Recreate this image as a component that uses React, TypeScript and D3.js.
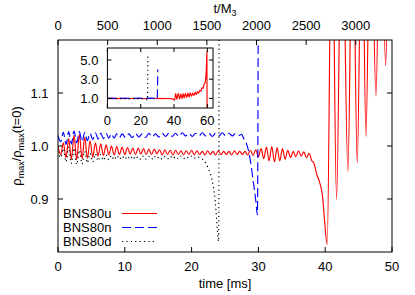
import React from "react";
import * as d3 from "d3";

// --- data ---
const bns80u: [number, number][] = [
  [0.0, 1.0], [0.4, 0.984], [0.8, 1.006], [1.2, 0.978], [1.6, 1.014], [2.0, 0.975],
  [2.4, 1.02], [2.8, 0.974], [3.2, 1.022], [3.6, 0.976], [4.0, 1.017], [4.4, 0.977],
  [4.8, 1.01], [5.2, 0.979], [5.6, 1.006], [6.0, 0.981], [6.4, 1.004], [6.8, 0.982],
  [7.2, 1.002], [7.6, 0.983], [8.0, 1.0], [8.4, 0.983], [8.8, 0.999], [9.2, 0.984],
  [9.6, 0.998], [10.0, 0.984], [10.4, 0.997], [10.8, 0.985], [11.2, 0.996], [11.6, 0.984],
  [12.0, 0.996], [12.4, 0.985], [12.8, 0.995], [13.2, 0.984], [13.6, 0.994], [14.0, 0.984],
  [14.4, 0.994], [14.8, 0.985], [15.2, 0.993], [15.6, 0.983], [16.0, 0.993], [16.4, 0.984],
  [16.8, 0.992], [17.2, 0.983], [17.6, 0.992], [18.0, 0.984], [18.4, 0.991], [18.8, 0.983],
  [19.2, 0.991], [19.6, 0.984], [20.0, 0.992], [20.4, 0.983], [20.8, 0.991], [21.2, 0.984],
  [21.6, 0.99], [22.0, 0.983], [22.4, 0.991], [22.8, 0.984], [23.2, 0.99], [23.6, 0.983],
  [24.0, 0.991], [24.4, 0.984], [24.8, 0.99], [25.2, 0.984], [25.6, 0.99], [26.0, 0.983],
  [26.4, 0.991], [26.8, 0.984], [27.2, 0.99], [27.6, 0.984], [28.0, 0.99], [28.4, 0.983],
  [28.8, 0.992], [29.2, 0.982], [29.6, 0.993], [30.0, 0.98], [30.4, 0.995], [30.8, 0.976],
  [31.2, 0.998], [31.6, 0.972], [32.0, 0.999], [32.4, 0.97], [32.8, 0.997], [33.2, 0.972],
  [33.6, 0.995], [34.0, 0.975], [34.4, 0.992], [34.8, 0.978], [35.2, 0.99], [35.6, 0.98],
  [36.0, 0.991], [36.4, 0.981], [36.8, 0.989], [37.2, 0.978], [37.6, 0.986], [38.0, 0.972],
  [38.3, 0.968], [38.7, 0.948], [39.2, 0.93], [39.6, 0.905], [39.9, 0.86], [40.3, 0.814],
  [41.0, 1.5], [41.7, 0.899], [42.5, 1.52], [43.4, 0.952], [44.1, 1.48], [44.8, 0.968],
  [45.5, 1.5], [46.1, 1.018], [46.8, 1.52], [47.6, 1.094], [48.3, 1.55], [49.05, 1.151],
  [49.7, 1.58], [50.5, 1.22], [51.2, 1.55], [52.0, 1.3], [52.7, 1.62], [53.4, 1.4],
  [54.1, 1.72], [54.8, 1.55], [55.5, 1.85], [56.1, 1.75], [56.8, 2.1], [57.4, 2.05],
  [58.0, 2.45], [58.6, 2.6], [59.1, 3.2], [59.5, 4.5], [59.75, 5.9], [59.85, -0.5],
];

const bns80n: [number, number][] = [
  [0.0, 1.02], [0.4, 1.008], [0.8, 1.026], [1.2, 1.003], [1.6, 1.027], [2.0, 1.004],
  [2.4, 1.028], [2.8, 1.006], [3.2, 1.027], [3.6, 1.008], [4.0, 1.026], [4.4, 1.01],
  [4.8, 1.024], [5.2, 1.012], [5.6, 1.025], [6.0, 1.013], [6.4, 1.024], [6.8, 1.014],
  [7.2, 1.024], [7.6, 1.015], [8.0, 1.023], [8.4, 1.015], [8.8, 1.023], [9.2, 1.016],
  [9.6, 1.023], [10.1, 1.016], [10.6, 1.023], [11.1, 1.016], [11.6, 1.024], [12.1, 1.017],
  [12.6, 1.023], [13.1, 1.016], [13.6, 1.024], [14.1, 1.017], [14.6, 1.023], [15.1, 1.017],
  [15.6, 1.024], [16.1, 1.018], [16.6, 1.024], [17.1, 1.018], [17.6, 1.024], [18.1, 1.018],
  [18.6, 1.025], [19.1, 1.019], [19.6, 1.024], [20.1, 1.018], [20.6, 1.024], [21.1, 1.019],
  [21.6, 1.025], [22.1, 1.019], [22.6, 1.024], [23.1, 1.018], [23.6, 1.024], [24.1, 1.019],
  [24.6, 1.025], [25.1, 1.019], [25.6, 1.024], [26.1, 1.019], [26.6, 1.024], [27.1, 1.02],
  [27.5, 1.022], [27.8, 1.014], [28.2, 1.005], [28.7, 0.98], [29.2, 0.936], [29.6, 0.898],
  [29.85, 0.87], [30.25, 4.0],
];

const bns80d: [number, number][] = [
  [0.0, 0.99], [0.4, 0.978], [0.8, 0.995], [1.2, 0.97], [1.6, 0.998], [2.0, 0.967],
  [2.4, 0.996], [2.8, 0.965], [3.2, 0.992], [3.6, 0.966], [4.0, 0.99], [4.4, 0.968],
  [4.8, 0.986], [5.2, 0.97], [5.6, 0.985], [6.0, 0.972], [6.4, 0.984], [6.8, 0.973],
  [7.2, 0.983], [7.6, 0.974], [8.0, 0.982], [8.4, 0.974], [8.8, 0.982], [9.2, 0.975],
  [9.6, 0.981], [10.0, 0.975], [10.4, 0.981], [10.8, 0.975], [11.2, 0.981], [11.6, 0.975],
  [12.0, 0.98], [12.4, 0.975], [12.8, 0.981], [13.2, 0.975], [13.6, 0.98], [14.0, 0.975],
  [14.4, 0.981], [14.8, 0.976], [15.2, 0.98], [15.6, 0.975], [16.0, 0.98], [16.4, 0.976],
  [16.8, 0.981], [17.2, 0.976], [17.6, 0.98], [18.0, 0.976], [18.4, 0.981], [18.8, 0.976],
  [19.2, 0.98], [19.6, 0.977], [20.0, 0.981], [20.4, 0.977], [20.8, 0.98], [21.3, 0.977],
  [21.75, 0.974], [22.2, 0.966], [22.5, 0.958], [23.0, 0.939], [23.4, 0.911], [23.65, 0.879],
  [23.85, 0.842], [24.05, 0.82], [24.3, 5.5],
];

const seriesNames = ["BNS80u", "BNS80n", "BNS80d"];
const seriesColors = ["#ff0000", "#0000ff", "#000000"];
const seriesDash = ["none", "9,4", "1.2,3.2"];

const timeTicks = [0, 10, 20, 30, 40, 50];
const mTicks = [0, 500, 1000, 1500, 2000, 2500, 3000];
const rhoTicks = [0.9, 1.0, 1.1];
const insetTimeTicks = [0, 20, 40, 60];
const insetRhoTicks = [1.0, 3.0, 5.0];

const FONT = "'Liberation Sans', Arial, Helvetica, sans-serif";

export default function App() {
  const W = 415;
  const H = 295;
  const L = 58, R = 392, T = 40, B = 252;

  const x = d3.scaleLinear().domain([0, 50]).range([L, R]);
  const xM = d3.scaleLinear().domain([0, 3365]).range([L, R]);
  const y = d3.scaleLinear().domain([0.8, 1.2]).range([B, T]);

  const iL = 107.4, iR = 213, iT = 48, iB = 108;
  const ix = d3.scaleLinear().domain([0, 63.4]).range([iL, iR]);
  const iy = d3.scaleLinear().domain([0, 6.25]).range([iB, iT]);

  const all = [bns80u, bns80n, bns80d];

  const mainLine = d3
    .line<[number, number]>()
    .x((d) => x(d[0]))
    .y((d) => y(d[1]))
    .curve(d3.curveMonotoneX);
  const insetLine = d3
    .line<[number, number]>()
    .x((d) => ix(d[0]))
    .y((d) => iy(d[1]))
    .curve(d3.curveMonotoneX);

  const tk = 5;
  const itk = 4;

  return (
    <svg
      width={W}
      height={H}
      style={{ position: "absolute", left: 0, top: 0, background: "#fff" }}
      fontFamily={FONT}
      fontSize={13}
    >
      <defs>
        <clipPath id="mainClip">
          <rect x={L} y={T} width={R - L} height={B - T} />
        </clipPath>
        <clipPath id="insetClip">
          <rect x={iL} y={iT} width={iR - iL} height={iB - iT} />
        </clipPath>
      </defs>
      <rect width={W} height={H} fill="#fff" />

      {/* main data */}
      <g clipPath="url(#mainClip)">
        {all.map((s, i) => (
          <path
            key={i}
            d={mainLine(s) || ""}
            fill="none"
            stroke={seriesColors[i]}
            strokeWidth={1.15}
            strokeDasharray={seriesDash[i]}
          />
        ))}
      </g>

      {/* main frame + ticks */}
      <rect x={L} y={T} width={R - L} height={B - T} fill="none" stroke="#000" strokeWidth={1} />
      {timeTicks.map((t) => (
        <g key={"bt" + t}>
          <line x1={x(t)} x2={x(t)} y1={B} y2={B - tk} stroke="#000" />
          <text x={x(t)} y={B + 19} textAnchor="middle">{t}</text>
        </g>
      ))}
      {mTicks.map((t) => (
        <g key={"tt" + t}>
          <line x1={xM(t)} x2={xM(t)} y1={T} y2={T + tk} stroke="#000" />
          <text x={xM(t)} y={T - 10} textAnchor="middle">{t}</text>
        </g>
      ))}
      {rhoTicks.map((v) => (
        <g key={"ry" + v}>
          <line x1={L} x2={L + tk} y1={y(v)} y2={y(v)} stroke="#000" />
          <line x1={R} x2={R - tk} y1={y(v)} y2={y(v)} stroke="#000" />
          <text x={L - 9.5} y={y(v) + 4.7} textAnchor="end">{v.toFixed(1)}</text>
        </g>
      ))}

      {/* axis labels */}
      <text x={(L + R) / 2} y={288} textAnchor="middle">time [ms]</text>
      <text x={225} y={13} textAnchor="middle">
        t/M<tspan fontSize={9} dy={3}>3</tspan>
      </text>
      <text transform={`translate(21,${(T + B) / 2}) rotate(-90)`} textAnchor="middle">
        ρ<tspan fontSize={9} dy={3}>max</tspan>
        <tspan dy={-3}>/ρ</tspan>
        <tspan fontSize={9} dy={3}>max</tspan>
        <tspan dy={-3}>(t=0)</tspan>
      </text>

      {/* legend */}
      {seriesNames.map((n, i) => {
        const by = 217.5 + i * 14;
        return (
          <g key={n}>
            <text x={63} y={by}>{n}</text>
            <line
              x1={122}
              x2={157}
              y1={by - 4}
              y2={by - 4}
              stroke={seriesColors[i]}
              strokeWidth={1.15}
              strokeDasharray={seriesDash[i]}
            />
          </g>
        );
      })}

      {/* inset */}
      <rect x={iL} y={iT} width={iR - iL} height={iB - iT} fill="#fff" />
      <g clipPath="url(#insetClip)">
        {all.map((s, i) => (
          <path
            key={i}
            d={insetLine(s) || ""}
            fill="none"
            stroke={seriesColors[i]}
            strokeWidth={1.15}
            strokeDasharray={seriesDash[i]}
          />
        ))}
      </g>
      <rect x={iL} y={iT} width={iR - iL} height={iB - iT} fill="none" stroke="#000" />
      {insetTimeTicks.map((t) => (
        <g key={"it" + t}>
          <line x1={ix(t)} x2={ix(t)} y1={iB} y2={iB - itk} stroke="#000" />
          <line x1={ix(t)} x2={ix(t)} y1={iT} y2={iT + itk} stroke="#000" />
          <text x={ix(t)} y={iB + 17} textAnchor="middle">{t}</text>
        </g>
      ))}
      {insetRhoTicks.map((v) => (
        <g key={"iy" + v}>
          <line x1={iL} x2={iL + itk} y1={iy(v)} y2={iy(v)} stroke="#000" />
          <line x1={iR} x2={iR - itk} y1={iy(v)} y2={iy(v)} stroke="#000" />
          <text x={iL - 9} y={iy(v) + 4.7} textAnchor="end">{v.toFixed(1)}</text>
        </g>
      ))}
    </svg>
  );
}
